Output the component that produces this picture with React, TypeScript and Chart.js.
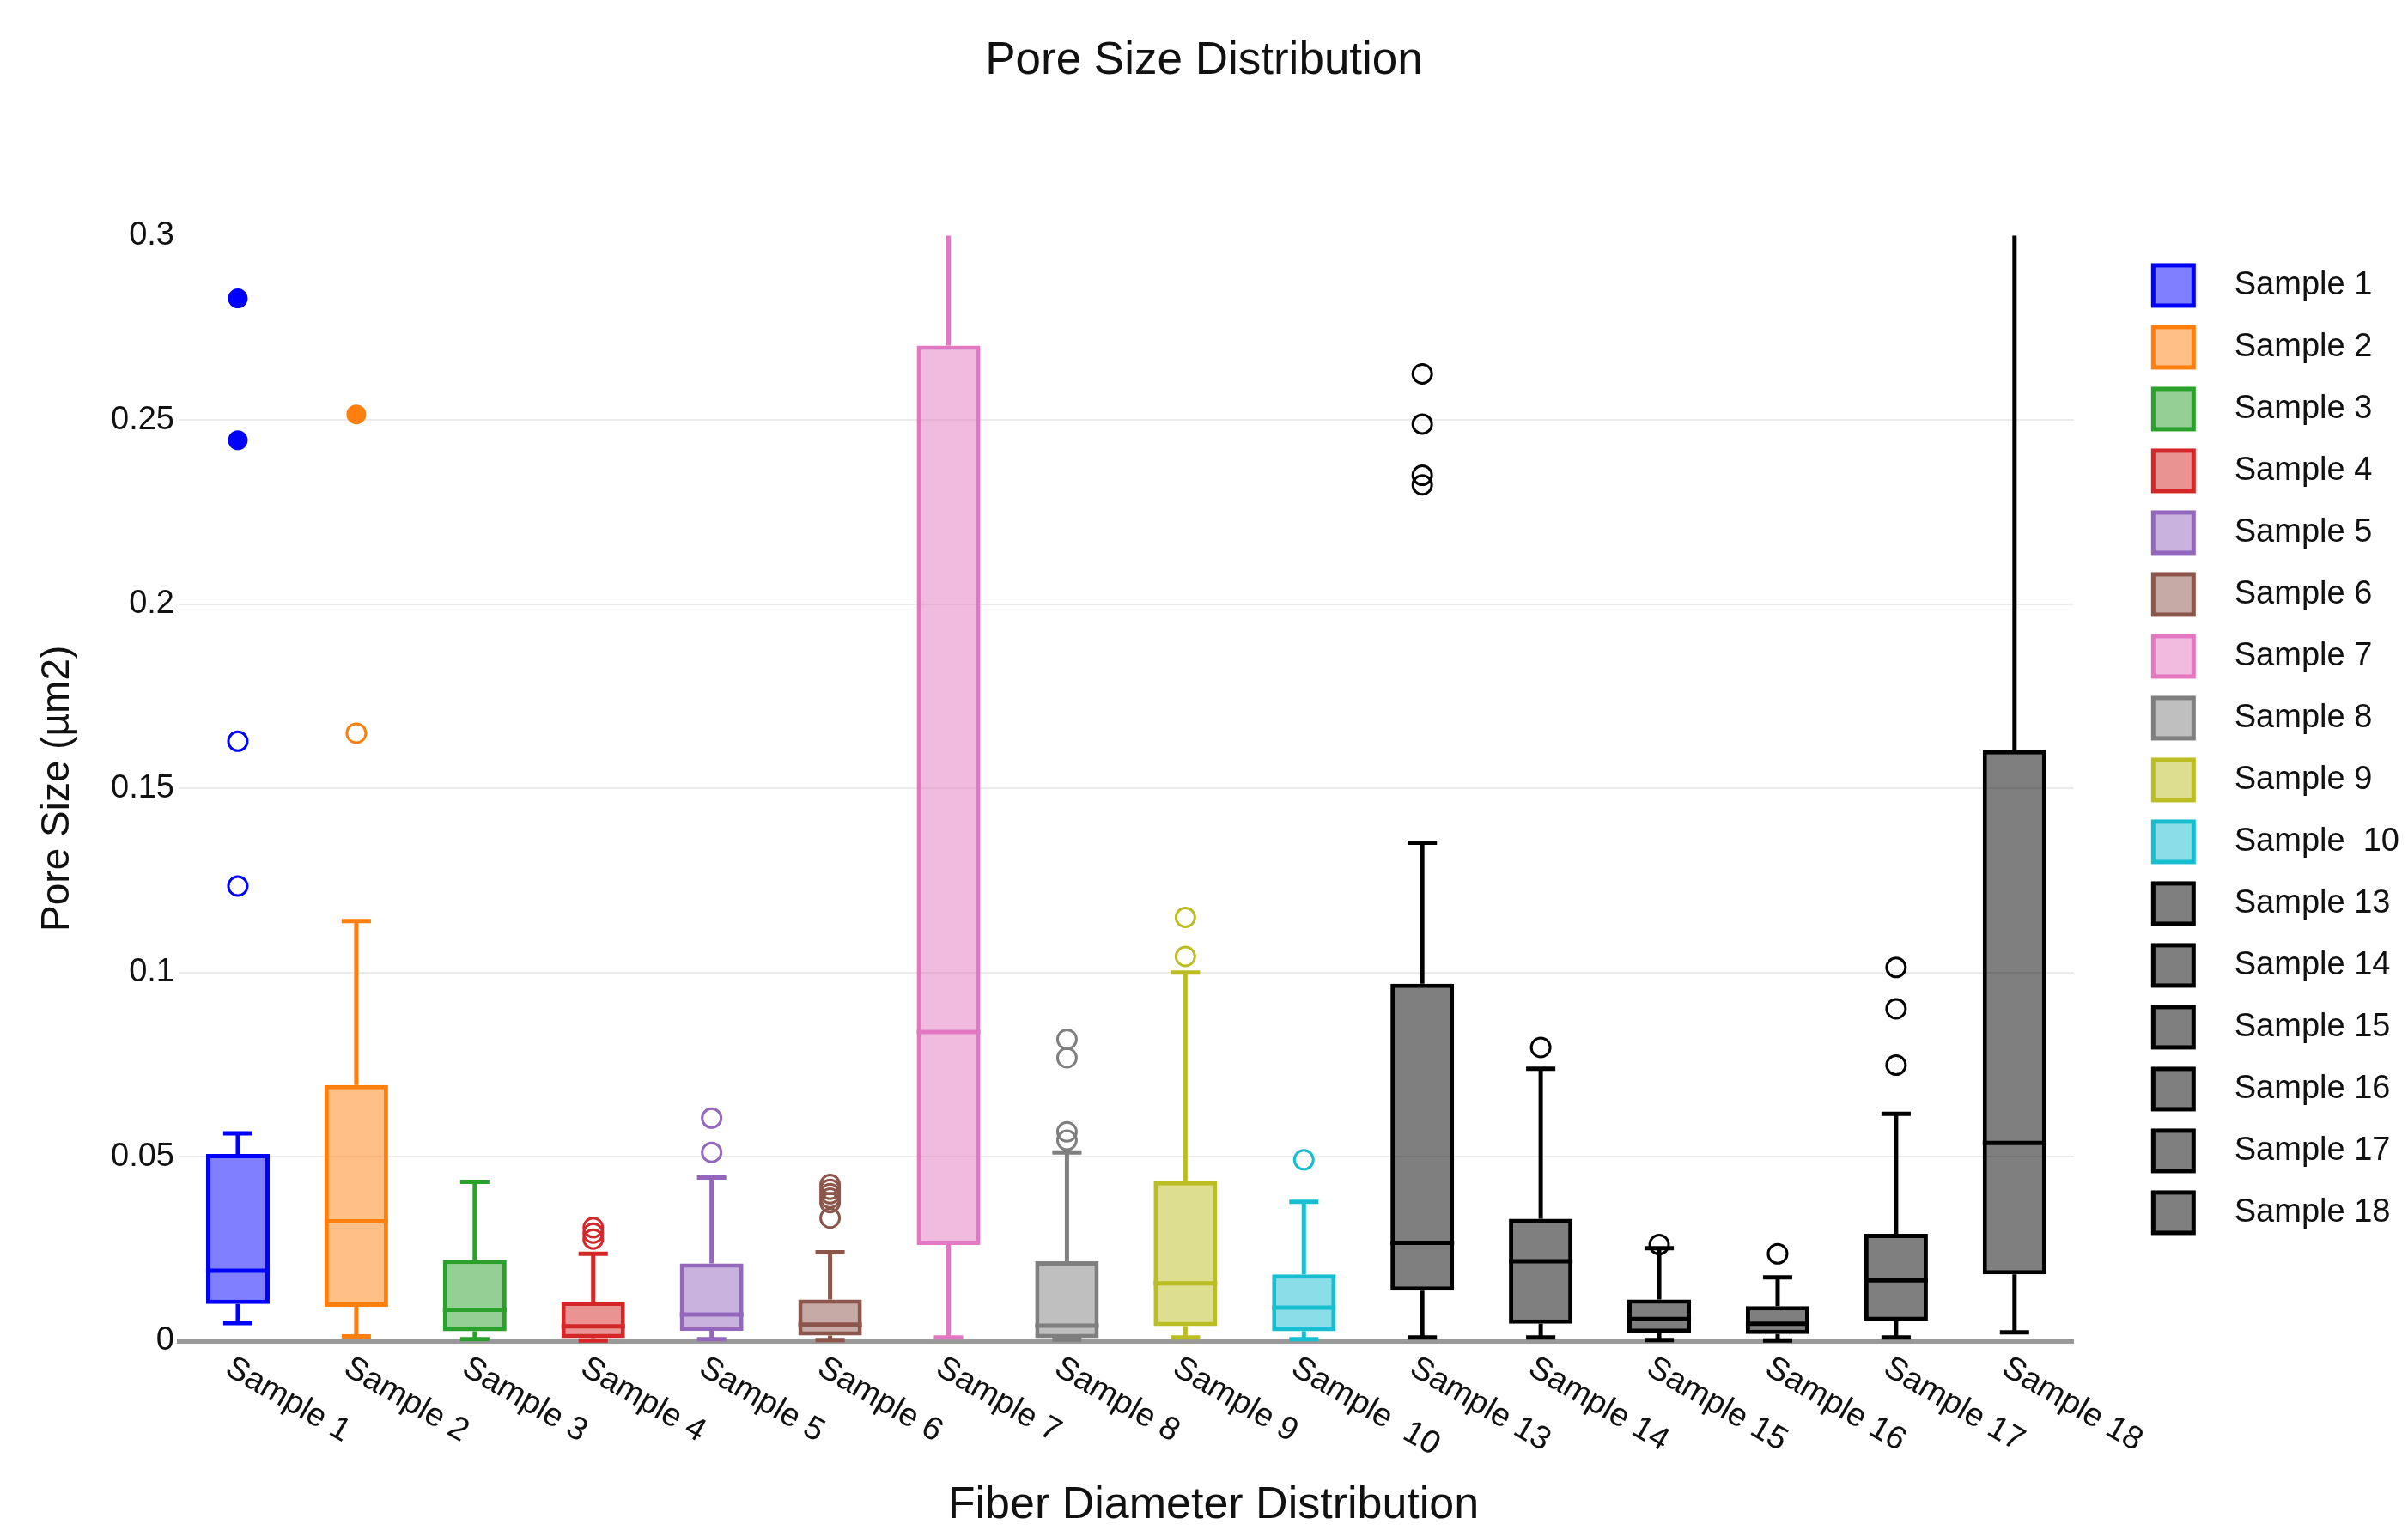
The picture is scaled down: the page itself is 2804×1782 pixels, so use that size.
import React, { useEffect, useRef } from 'react';
import { Chart, registerables } from 'chart.js';

Chart.register(...registerables);

const FONT = '"Liberation Sans", Arial, sans-serif';
const TEXT = '#111111';

const sampleLabels = [
  'Sample 1', 'Sample 2', 'Sample 3', 'Sample 4', 'Sample 5', 'Sample 6', 'Sample 7', 'Sample 8',
  'Sample 9', 'Sample  10', 'Sample 13', 'Sample 14', 'Sample 15', 'Sample 16', 'Sample 17', 'Sample 18',
];

const lowerWhisker = [0.0049, 0.0013, 0.0005, 0.0002, 0.0005, 0.0003, 0.001, 0.0004, 0.001, 0.0005, 0.001, 0.001, 0.0003, 0.0002, 0.001, 0.0024];
const q1Values = [0.0101, 0.0093, 0.0027, 0.0008, 0.0028, 0.0015, 0.0261, 0.0008, 0.0041, 0.0027, 0.0137, 0.0047, 0.0023, 0.0019, 0.0055, 0.0181];
const medianValues = [0.0191, 0.0325, 0.0085, 0.004, 0.0072, 0.0045, 0.0839, 0.0042, 0.0157, 0.0091, 0.0267, 0.0217, 0.006, 0.0047, 0.0165, 0.0538];
const q3Values = [0.0508, 0.0695, 0.0221, 0.0107, 0.0211, 0.0113, 0.2702, 0.0217, 0.0434, 0.0181, 0.097, 0.0332, 0.0113, 0.0095, 0.0291, 0.1604];
const upperWhisker = [0.0564, 0.114, 0.0432, 0.0237, 0.0444, 0.0241, 0.32, 0.0512, 0.1, 0.0378, 0.1353, 0.0739, 0.0252, 0.0173, 0.0617, 0.33];

const openOutliers: number[][] = [
  [0.1628, 0.1235],
  [0.165],
  [],
  [0.0308, 0.0293, 0.0277],
  [0.0605, 0.0512],
  [0.0425, 0.0412, 0.04, 0.0388, 0.0376, 0.0334],
  [],
  [0.0819, 0.0769, 0.0568, 0.0545],
  [0.115, 0.1044],
  [0.0492],
  [0.2625, 0.2489, 0.235, 0.2324],
  [0.0797],
  [0.0262],
  [0.0237],
  [0.1014, 0.0902, 0.0749],
  [],
];
const filledOutliers: number[][] = [
  [0.283, 0.2445],
  [0.2515],
  [], [], [], [], [], [], [], [], [], [], [], [], [], [],
];

const lineColors = [
  '#0000ff', '#ff7f0e', '#2ca02c', '#d62728', '#9467bd', '#8c564b', '#e377c2', '#7f7f7f',
  '#bcbd22', '#17becf', '#000000', '#000000', '#000000', '#000000', '#000000', '#000000',
];
const fillColors = [
  'rgba(0,0,255,0.5)', 'rgba(255,127,14,0.5)', 'rgba(44,160,44,0.5)', 'rgba(214,39,40,0.5)',
  'rgba(148,103,189,0.5)', 'rgba(140,86,75,0.5)', 'rgba(227,119,194,0.5)', 'rgba(127,127,127,0.5)',
  'rgba(188,189,34,0.5)', 'rgba(23,190,207,0.5)', 'rgba(0,0,0,0.5)', 'rgba(0,0,0,0.5)',
  'rgba(0,0,0,0.5)', 'rgba(0,0,0,0.5)', 'rgba(0,0,0,0.5)', 'rgba(0,0,0,0.5)',
];

const yTicks = [0, 0.05, 0.1, 0.15, 0.2, 0.25, 0.3];
const chartTitle = 'Pore Size Distribution';
const xTitle = 'Fiber Diameter Distribution';
const yTitle = 'Pore Size (µm2)';

const BAR_PCT = 0.537;
const LINE_W = 5;

const boxDetailsPlugin = {
  id: 'boxDetails',
  afterDatasetsDraw(chart: any) {
    const { ctx, chartArea, scales } = chart;
    const x = scales.x;
    const y = scales.y;
    const catW = x.getPixelForValue(1) - x.getPixelForValue(0);
    const boxW = catW * BAR_PCT;
    const capW = boxW * 0.46;
    ctx.save();
    ctx.beginPath();
    ctx.rect(chartArea.left, chartArea.top, chartArea.right - chartArea.left, chartArea.bottom - chartArea.top + 4);
    ctx.clip();
    const seg = (x1: number, y1: number, x2: number, y2: number) => {
      ctx.beginPath();
      ctx.moveTo(x1, y1);
      ctx.lineTo(x2, y2);
      ctx.stroke();
    };
    sampleLabels.forEach((_, i) => {
      const cx = x.getPixelForValue(i);
      const color = lineColors[i];
      ctx.strokeStyle = color;
      ctx.lineWidth = LINE_W;
      ctx.lineCap = 'butt';
      const yq1 = y.getPixelForValue(q1Values[i]);
      const yq3 = y.getPixelForValue(q3Values[i]);
      const ylo = y.getPixelForValue(lowerWhisker[i]);
      const yhi = y.getPixelForValue(upperWhisker[i]);
      const ymed = y.getPixelForValue(medianValues[i]);
      seg(cx, yq3, cx, yhi);
      seg(cx, yq1, cx, ylo);
      seg(cx - capW / 2, yhi, cx + capW / 2, yhi);
      seg(cx - capW / 2, ylo, cx + capW / 2, ylo);
      seg(cx - boxW / 2, ymed, cx + boxW / 2, ymed);
      ctx.lineWidth = 3;
      openOutliers[i].forEach((v) => {
        ctx.beginPath();
        ctx.arc(cx, y.getPixelForValue(v), 11, 0, Math.PI * 2);
        ctx.stroke();
      });
      ctx.fillStyle = color;
      filledOutliers[i].forEach((v) => {
        ctx.beginPath();
        ctx.arc(cx, y.getPixelForValue(v), 11.5, 0, Math.PI * 2);
        ctx.fill();
      });
    });
    ctx.restore();
  },
  afterDraw(chart: any) {
    const { ctx } = chart;
    const x = chart.scales.x;
    ctx.save();
    ctx.fillStyle = TEXT;
    ctx.font = `38px ${FONT}`;
    ctx.textAlign = 'left';
    ctx.textBaseline = 'top';
    sampleLabels.forEach((label, i) => {
      const px = x.getPixelForValue(i);
      ctx.save();
      ctx.translate(px - 2, x.top + 12);
      ctx.rotate(Math.PI / 6);
      ctx.fillText(label, 0, 0);
      ctx.restore();
    });
    ctx.font = `52px ${FONT}`;
    ctx.textAlign = 'center';
    ctx.textBaseline = 'middle';
    ctx.fillText(xTitle, chart.width / 2 + 11, chart.height - 28);
    ctx.restore();
  },
};

export default function App() {
  const canvasRef = useRef<HTMLCanvasElement | null>(null);

  useEffect(() => {
    document.body.style.margin = '0';
    document.body.style.overflow = 'hidden';
    const canvas = canvasRef.current;
    if (!canvas) return;

    const icons = sampleLabels.map((_, i) => {
      const c = document.createElement('canvas');
      c.width = 54;
      c.height = 54;
      const g = c.getContext('2d')!;
      g.fillStyle = fillColors[i];
      g.fillRect(3.5, 3.5, 47, 47);
      g.strokeStyle = lineColors[i];
      g.lineWidth = 5;
      g.strokeRect(3.5, 3.5, 47, 47);
      return c;
    });

    const datasets = sampleLabels.map((label, i) => ({
      label,
      data: sampleLabels.map((_, j) => (j === i ? [q1Values[i], q3Values[i]] : null)),
      backgroundColor: fillColors[i],
      borderColor: lineColors[i],
      borderWidth: LINE_W,
      borderSkipped: false,
      grouped: false,
      barPercentage: BAR_PCT,
      categoryPercentage: 1,
    }));

    const chart = new Chart(canvas, {
      type: 'bar',
      data: { labels: sampleLabels, datasets: datasets as any },
      plugins: [boxDetailsPlugin],
      options: {
        animation: false,
        responsive: true,
        maintainAspectRatio: false,
        devicePixelRatio: 1,
        layout: { padding: 0 },
        plugins: {
          tooltip: { enabled: false },
          title: {
            display: true,
            text: chartTitle,
            color: TEXT,
            font: { family: FONT, size: 53, weight: 'normal' },
            padding: { top: 40, bottom: 171 },
          },
          legend: {
            display: true,
            position: 'right',
            align: 'start',
            fullSize: false,
            title: {
              display: true,
              text: '',
              padding: 0,
              font: { family: FONT, size: 4 },
            },
            labels: {
              usePointStyle: true,
              pointStyleWidth: 104,
              padding: 34,
              color: TEXT,
              font: { family: FONT, size: 38 },
              generateLabels: () =>
                sampleLabels.map((label, i) => ({
                  text: label,
                  fillStyle: fillColors[i],
                  strokeStyle: lineColors[i],
                  lineWidth: 5,
                  pointStyle: icons[i],
                  hidden: false,
                  datasetIndex: i,
                  fontColor: TEXT,
                })),
            },
          },
        },
        scales: {
          x: {
            type: 'category',
            offset: true,
            z: 1,
            grid: { display: false, drawTicks: false },
            ticks: { display: false },
            border: { display: true, color: '#999999', width: 5 },
            afterFit: (s: any) => {
              s.height = 220;
            },
          },
          y: {
            type: 'linear',
            min: 0,
            max: 0.3,
            afterBuildTicks: (s: any) => {
              s.ticks = yTicks.map((v) => ({ value: v }));
            },
            grid: {
              drawTicks: false,
              lineWidth: 2,
              color: (c: any) => (c.tick && (c.tick.value === 0 || c.tick.value === 0.3) ? 'rgba(0,0,0,0)' : '#ebebeb'),
            },
            border: { display: false },
            ticks: {
              padding: 5,
              color: TEXT,
              font: { family: FONT, size: 38 },
              callback: (v: any) => String(Math.round(Number(v) * 100) / 100),
            },
            title: {
              display: true,
              text: yTitle,
              color: TEXT,
              font: { family: FONT, size: 46 },
              padding: { top: 40, bottom: 0 },
            },
            afterFit: (s: any) => {
              s.width = 208;
            },
          },
          y2: {
            type: 'linear',
            axis: 'y',
            position: 'right',
            display: true,
            grid: { display: false, drawTicks: false },
            ticks: { display: false },
            border: { display: false },
            afterFit: (s: any) => {
              s.width = 30;
            },
          },
        },
      } as any,
    });

    return () => {
      chart.destroy();
    };
  }, []);

  return (
    <div style={{ width: '2804px', height: '1782px', position: 'relative' }}>
      <canvas ref={canvasRef} />
    </div>
  );
}
